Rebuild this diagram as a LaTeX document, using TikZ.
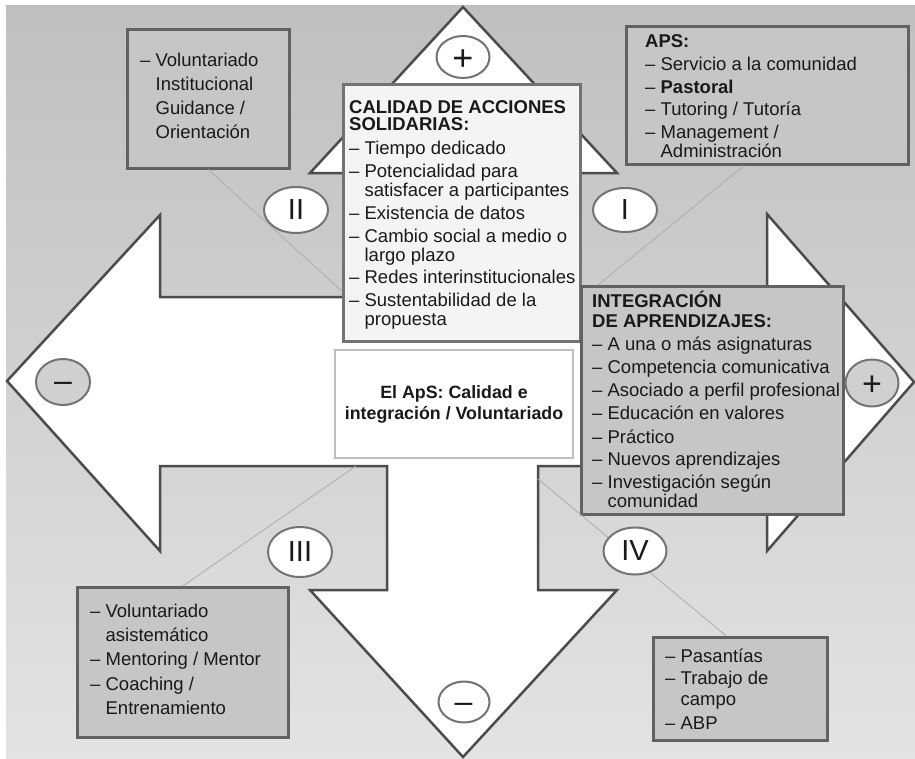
\documentclass[tikz,border=0pt]{standalone}
\usepackage{fontspec}
\setmainfont{Liberation Sans}
\usetikzlibrary{shapes.geometric,calc}
\newcommand{\fhs}{\rule{0pt}{18pt}}
\newcommand{\ind}{\phantom{– }}
\begin{document}
\begin{tikzpicture}[x=1pt,y=-1pt,
  crossst/.style={draw=black!70, line width=2.5pt, fill=white, line join=miter},
  gbox/.style={draw=black!62, line width=2.5pt, fill=gray!45, anchor=north west, inner sep=0pt},
  txt/.style={anchor=north west, inner sep=0pt, align=left, text=black!90, font=\fontsize{18.5}{19}\selectfont},
  oval/.style={ellipse, draw=black!55, line width=2pt, fill=white, inner sep=0pt, text=black!90, font=\fontsize{29}{29}\selectfont},
  goval/.style={oval, fill=gray!37},
  link/.style={draw=gray!62, line width=0.9pt},
  sym/.style={inner sep=0pt, anchor=base, text=black!90},
]
\useasboundingbox (0,0) rectangle (915,758);
\fill[white] (0,0) rectangle (915,758);
\shade[top color=gray!50, bottom color=gray!22] (6,5) rectangle (915,758);

% four-way arrow
\draw[crossst] (463,7) -- (617,173) -- (538,173) -- (538,297) -- (767,297) -- (767,214)
  -- (914,382) -- (767,551) -- (767,466) -- (538,466) -- (538,590) -- (617,590)
  -- (463,757) -- (310,590) -- (387,590) -- (387,466) -- (160,466) -- (160,551)
  -- (7,381) -- (160,215) -- (160,297) -- (387,297) -- (387,173) -- (310,173) -- cycle;

% boxes
\node[gbox, minimum width=162pt, minimum height=139pt] (vol) at (126,28) {};
\node[gbox, minimum width=237pt, minimum height=257pt, fill=gray!9, draw=black!55] (cal) at (342,83) {};
\node[gbox, minimum width=282pt, minimum height=138pt] (aps) at (625,25) {};
\node[gbox, minimum width=262pt, minimum height=228pt] (integ) at (580,285) {};
\node[gbox, minimum width=211pt, minimum height=150pt] (iii) at (76,586) {};
\node[gbox, minimum width=174pt, minimum height=103pt] (pas) at (652,636) {};
\node[draw=gray!50, line width=1.8pt, fill=white, minimum width=238pt, minimum height=108pt,
  align=center, inner sep=0pt, font=\bfseries\fontsize{17.8}{21}\selectfont, text=black!90]
  (center) at (454,404) {El ApS: Calidad e\\integración / Voluntariado};

% links
\coordinate (c3) at (356,466);
\coordinate (c4) at (538,479);
\draw[link] (vol.south) -- ([yshift=-78.5pt]cal.west);
\draw[link] ([xshift=-23pt]aps.south) -- ([xshift=18pt]integ.north west);
\draw[link] (iii.north) -- (c3);
\draw[link] (c4) -- ([xshift=-14pt]pas.north);

% texts
\node[txt, font=\fontsize{18.5}{24}\selectfont] (tvol) at (140,48)
  {\fhs– Voluntariado\\\ind Institucional\\\ind Guidance /\\\ind Orientación};
\node[txt] (tcal) at (349,95)
  {\fhs\textbf{CALIDAD DE ACCIONES}\\[-2pt]\textbf{SOLIDARIAS:}\\[5pt]– Tiempo dedicado\\[4pt]– Potencialidad para\\\ind satisfacer a participantes\\[4pt]– Existencia de datos\\[4pt]– Cambio social a medio o\\\ind largo plazo\\[3pt]– Redes interinstitucionales\\[4pt]– Sustentabilidad de la\\\ind propuesta};
\node[txt] (taps) at (645,29)
  {\fhs\textbf{APS:}\\[4pt]– Servicio a la comunidad\\[4pt]– \textbf{Pastoral}\\[3pt]– Tutoring / Tutoría\\[4pt]– Management /\\\ind Administración};
\node[txt] (tinteg) at (592,289)
  {\fhs\textbf{INTEGRACIÓN}\\[1pt]\textbf{DE APRENDIZAJES:}\\[4pt]– A una o más asignaturas\\[4pt]– Competencia comunicativa\\[4pt]– Asociado a perfil profesional\\[4pt]– Educación en valores\\[5pt]– Práctico\\[3pt]– Nuevos aprendizajes\\[4pt]– Investigación según\\\ind comunidad};
\node[txt, font=\fontsize{18.5}{24}\selectfont] (tiii) at (90,599)
  {\fhs– Voluntariado\\\ind asistemático\\– Mentoring / Mentor\\[1pt]– Coaching /\\\ind Entrenamiento};
\node[txt, font=\fontsize{18.5}{22}\selectfont] (tpas) at (665,644)
  {\fhs– Pasantías\\– Trabajo de\\[-1pt]\ind campo\\[2pt]– ABP};

% ovals
\node[oval, minimum width=53pt, minimum height=42pt] (ptop) at (463,57) {};
\node[sym, font=\fontsize{36}{36}\selectfont] (ptopt) at (463,70) {+};
\node[goval, minimum width=53pt, minimum height=47pt] (pright) at (872,383) {};
\node[sym, font=\fontsize{34}{34}\selectfont] (prightt) at (872,395.5) {+};
\node[goval, minimum width=54pt, minimum height=46pt] (mleft) at (63,382) {};
\node[sym, font=\fontsize{32}{32}\selectfont] (mleftt) at (63,391.5) {–};
\node[oval, minimum width=51pt, minimum height=41pt] (mbot) at (464,702) {};
\node[sym, font=\fontsize{32}{32}\selectfont] (mbott) at (463.5,712) {–};
\node[oval, minimum width=64pt, minimum height=46pt] (n2) at (296,210) {II};
\node[oval, minimum width=64pt, minimum height=44pt] (n1) at (625,210) {I};
\node[oval, minimum width=64pt, minimum height=50pt] (n3) at (300,552) {III};
\node[oval, minimum width=63pt, minimum height=47pt] (n4) at (635,551) {IV};
\end{tikzpicture}
\end{document}
